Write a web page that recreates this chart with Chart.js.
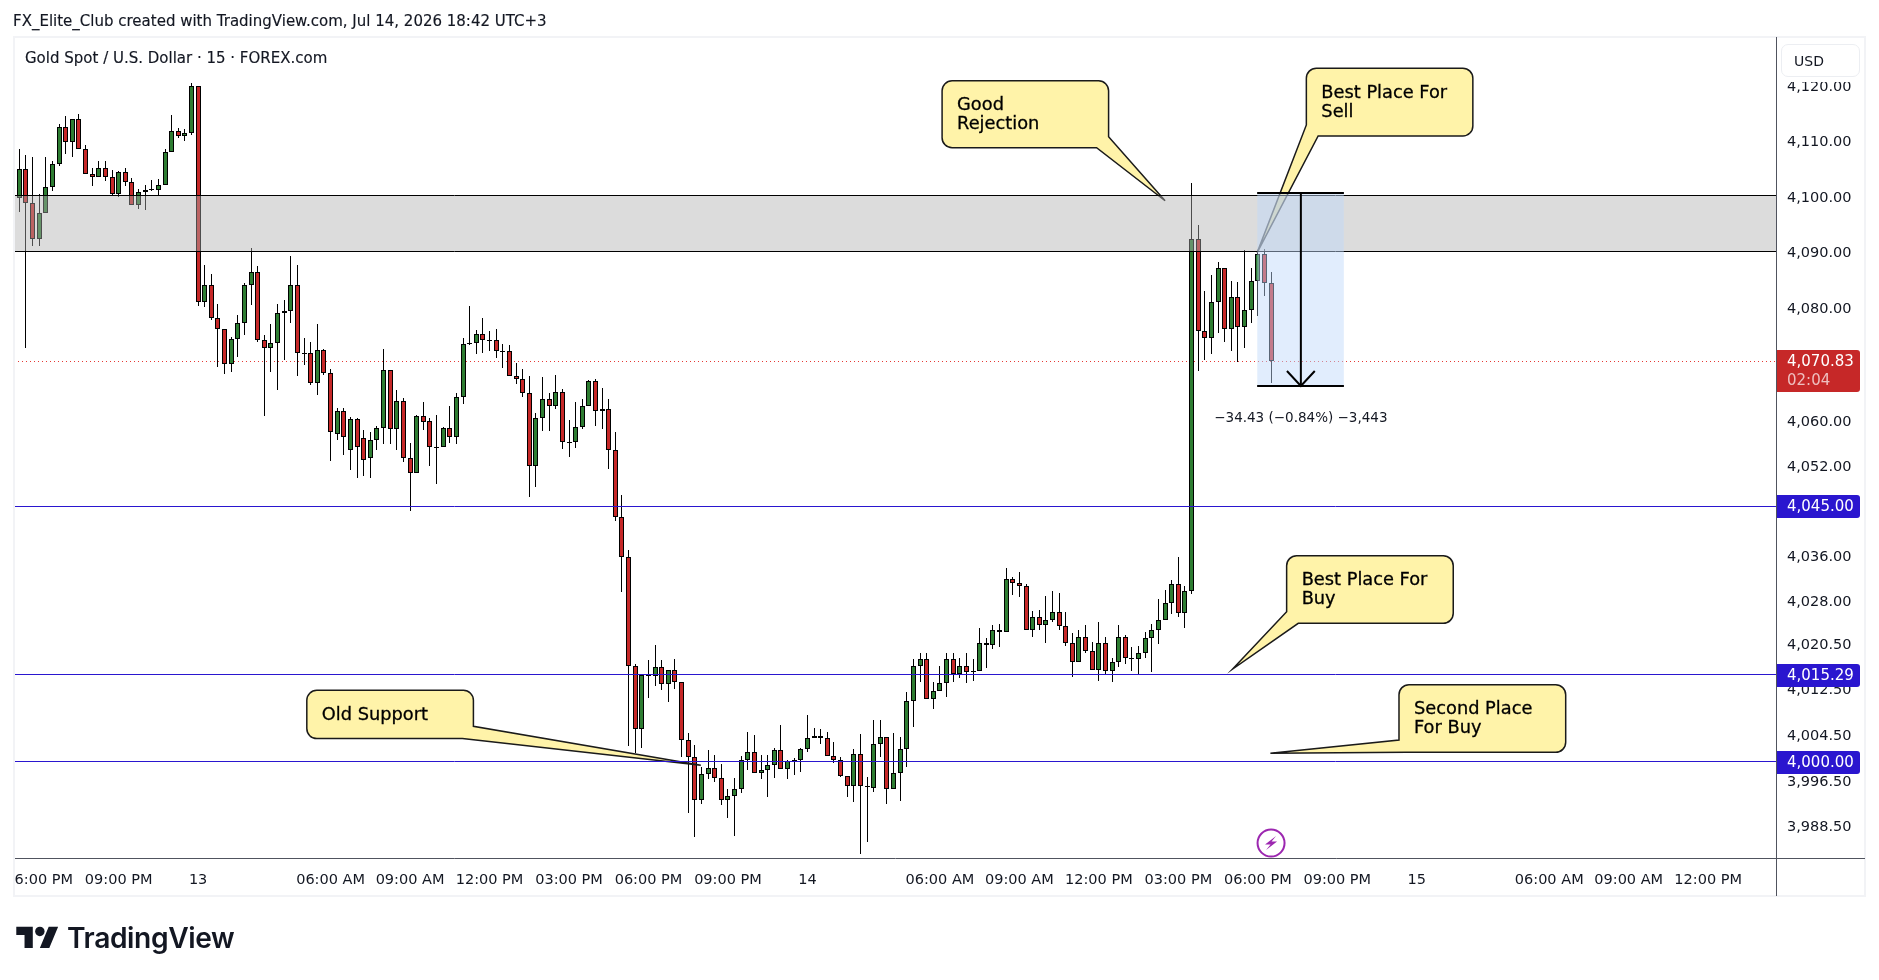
<!DOCTYPE html>
<html>
<head>
<meta charset="utf-8">
<title>Gold Spot / U.S. Dollar</title>
<script src="https://cdn.jsdelivr.net/npm/chart.js@4/dist/chart.umd.min.js"></script>
<style>
  html, body { margin: 0; padding: 0; background: #fff; }
  #wrap { position: relative; width: 1879px; height: 980px; overflow: hidden; color: #131722; font-family: "DejaVu Sans", sans-serif; }
  canvas { position: absolute; left: 0; top: 0; }
  .abs { position: absolute; white-space: nowrap; }
  #frame { left: 13px; top: 36px; width: 1849px; height: 857px; border: 2px solid #f2f3f6; pointer-events: none; }
  #maskLeft { left: 0; top: 860px; width: 13px; height: 36px; background: #fff; }
  #header { left: 13px; top: 12px; font-size: 15px; line-height: 18px; -webkit-text-stroke: 0.15px #131722; }
  #title { left: 25px; top: 49px; font-size: 15px; line-height: 18px; -webkit-text-stroke: 0.15px #131722; }
  #usd { left: 1781px; top: 44px; width: 79px; height: 33px; box-sizing: border-box; border: 1px solid #eceef2; border-radius: 7px; background: #fff; box-shadow: 0 5px 0 #fff; font-size: 14px; line-height: 32px; padding-left: 12px; }
  #axisV { left: 1776px; top: 37px; width: 1px; height: 859px; background: #50535e; }
  #axisH { left: 1776px; top: 858px; width: 89px; height: 1px; background: #50535e; }
  #logo { left: 16px; top: 922px; width: 43px; height: 33px; }
  #logoText { left: 67px; top: 920px; font-family: Inter, sans-serif; font-weight: 600; font-size: 28.2px; line-height: 36px; letter-spacing: -0.4px; color: #131722; }
</style>
</head>
<body>
<div id="wrap">
  <canvas id="chart" width="1879" height="980"></canvas>
  <div class="abs" id="maskLeft"></div>
  <div class="abs" id="frame"></div>
  <div class="abs" id="axisV"></div>
  <div class="abs" id="axisH"></div>
  <div class="abs" id="header">FX_Elite_Club created with TradingView.com, Jul 14, 2026 18:42 UTC+3</div>
  <div class="abs" id="title">Gold Spot / U.S. Dollar · 15 · FOREX.com</div>
  <div class="abs" id="usd">USD</div>
  <svg class="abs" id="logo" viewBox="0 0 36 28"><path fill="#131722" d="M14 22H7V11H0V4h14v18zM28 22h-8l7.5-18h8L28 22z"/><circle fill="#131722" cx="20" cy="8" r="4"/></svg>
  <div class="abs" id="logoText">TradingView</div>
</div>
<script>
// 15 minute candles, one per bar
const opens = [4100.0,4105.2,4099.1,4092.6,4097.3,4101.9,4106.1,4112.7,4110.0,4114.2,4108.8,4104.3,4103.7,4105.4,4103.7,4100.7,4104.6,4102.8,4098.7,4101.0,
  4101.6,4101.5,4102.3,4108.2,4112.0,4111.1,4111.7,4120.1,4081.3,4084.4,4078.5,4076.5,4070.3,4074.7,4077.6,4084.4,4086.7,4074.5,4073.1,4074.0,
  4079.4,4079.7,4084.4,4072.2,4072.2,4067.0,4072.8,4068.7,4057.9,4061.9,4055.0,4060.5,4057.1,4053.6,4056.8,4058.9,4069.3,4058.7,4063.7,4053.5,
  4050.9,4061.0,4060.1,4055.5,4055.5,4058.9,4057.3,4064.4,4073.8,4074.0,4075.6,4074.5,4074.5,4072.6,4072.6,4068.1,4067.7,4065.1,4052.1,4060.6,
  4064.0,4062.9,4065.3,4056.4,4056.4,4059.0,4062.8,4067.2,4061.9,4062.2,4055.0,4043.2,4036.0,4016.9,4005.7,4015.0,4015.0,4016.6,4013.6,4016.1,
  4014.1,4003.9,4000.8,3993.4,3997.8,3999.0,3997.1,3993.4,3994.1,3995.3,4000.3,4001.7,3998.1,3998.5,3999.4,4002.0,3998.8,4000.2,4000.3,4002.2,
  4004.1,4004.6,4004.1,4001.1,4000.4,3997.6,3995.7,4001.3,3995.7,3995.5,4003.1,4004.3,3995.3,3998.0,4002.2,4010.6,4016.9,4018.0,4011.0,4012.4,
  4013.9,4018.0,4015.5,4016.8,4015.9,4015.9,4020.8,4020.5,4022.9,4022.9,4032.1,4031.4,4031.0,4023.1,4025.4,4024.0,4024.9,4026.4,4023.8,4020.8,
  4017.5,4021.9,4019.4,4016.1,4020.8,4015.9,4017.5,4021.9,4018.3,4018.0,4019.2,4021.7,4023.1,4025.0,4028.0,4031.2,4026.1,4030.0,4092.6,4076.1,
  4074.9,4081.3,4087.4,4076.5,4082.2,4076.9,4079.9,4085.1,4089.9,4084.7];
const highs = [4108.8,4107.8,4107.4,4100.7,4107.4,4106.7,4113.3,4114.8,4114.2,4115.1,4109.5,4105.4,4106.7,4106.7,4105.1,4104.8,4105.4,4103.6,4101.6,4102.4,
  4103.3,4103.4,4108.8,4115.0,4112.6,4112.4,4120.7,4120.1,4088.0,4086.4,4081.0,4076.5,4075.1,4079.1,4084.7,4091.0,4087.8,4075.5,4077.5,4081.0,
  4081.7,4089.6,4088.0,4075.0,4074.2,4077.5,4073.0,4069.4,4062.4,4062.4,4060.8,4060.6,4058.6,4058.2,4059.2,4073.0,4069.3,4065.7,4064.2,4056.2,
  4061.2,4063.5,4060.6,4061.2,4059.0,4062.8,4065.1,4074.9,4080.7,4076.3,4078.5,4076.2,4076.5,4073.8,4073.6,4070.4,4069.4,4068.1,4061.5,4067.9,
  4065.1,4068.3,4065.8,4060.3,4063.5,4064.0,4067.5,4067.6,4066.0,4064.0,4058.2,4047.0,4037.2,4017.2,4015.2,4017.9,4020.5,4017.9,4016.1,4018.0,
  4014.1,4005.0,4002.9,3999.1,4002.1,4001.2,3999.6,3995.3,3997.1,4001.0,4005.2,4004.7,4001.2,4001.2,4002.5,4006.4,4000.4,4000.6,4002.4,4008.2,
  4006.0,4005.7,4005.2,4003.5,4000.8,3997.6,4002.2,4004.9,3997.3,4007.3,4007.3,4004.3,4005.0,4004.3,4012.2,4018.0,4019.2,4019.2,4014.0,4016.8,
  4019.1,4019.2,4018.2,4019.1,4018.0,4023.5,4021.7,4024.0,4024.2,4034.1,4032.6,4033.4,4031.3,4026.5,4026.7,4029.2,4030.0,4029.7,4026.3,4022.6,
  4023.2,4024.0,4021.0,4024.6,4021.9,4018.3,4024.0,4022.2,4020.1,4020.3,4022.9,4024.2,4028.6,4030.3,4031.9,4036.1,4031.0,4102.7,4095.2,4083.3,
  4086.2,4088.5,4087.4,4085.1,4085.0,4090.7,4087.5,4090.1,4090.9,4086.8];
const lows = [4097.4,4073.1,4091.4,4091.3,4097.3,4101.3,4105.7,4107.9,4107.3,4108.8,4104.3,4102.2,4103.7,4103.1,4100.4,4100.1,4102.1,4098.7,4098.1,4097.8,
  4101.2,4100.4,4102.3,4108.2,4110.7,4110.3,4111.4,4080.7,4080.4,4078.2,4069.8,4068.6,4068.9,4071.6,4075.5,4080.8,4074.3,4061.1,4068.9,4065.6,
  4071.0,4077.7,4068.1,4070.1,4066.6,4064.8,4068.4,4053.0,4056.8,4054.1,4051.5,4050.0,4050.4,4050.0,4055.0,4056.0,4056.0,4055.0,4052.9,4044.1,
  4050.9,4058.6,4052.2,4049.0,4055.5,4056.3,4056.1,4063.2,4073.7,4072.0,4072.3,4072.7,4071.4,4069.5,4068.1,4066.8,4064.5,4046.7,4048.4,4058.3,
  4058.3,4062.2,4055.1,4053.7,4055.4,4058.7,4062.8,4059.3,4058.8,4051.7,4042.5,4029.9,4002.8,4001.5,4002.4,4011.2,4013.3,4012.6,4010.5,4012.8,
  4000.9,3991.1,3986.9,3992.6,3997.0,3996.5,3992.4,3990.2,3987.0,3994.5,3998.6,3998.1,3997.0,3993.9,3997.2,3998.8,3997.0,3997.7,3998.2,4001.7,
  4004.1,4003.2,4001.1,3999.8,3997.3,3993.9,3993.0,3983.9,3986.0,3994.8,4000.9,3992.7,3995.3,3993.2,3999.1,4006.2,4014.1,4011.0,4009.3,4012.4,
  4011.4,4014.1,4014.8,4013.8,4014.2,4015.9,4016.4,4019.9,4020.2,4022.9,4029.3,4028.9,4023.1,4021.9,4023.2,4020.9,4024.6,4023.2,4020.4,4014.9,
  4017.5,4019.1,4016.1,4014.2,4015.5,4014.1,4016.7,4017.2,4016.0,4015.4,4018.3,4015.8,4020.7,4024.9,4026.0,4025.5,4023.6,4029.6,4069.1,4071.0,
  4072.1,4075.9,4074.3,4072.7,4070.6,4073.2,4077.6,4078.8,4082.5,4066.9];
const closes = [4105.2,4099.1,4092.6,4097.3,4101.9,4106.1,4112.7,4110.0,4114.2,4108.8,4104.3,4103.7,4105.4,4103.7,4100.7,4104.6,4102.8,4098.7,4101.0,4101.4,
  4101.6,4102.3,4108.2,4112.0,4111.1,4111.7,4120.1,4081.3,4084.4,4078.5,4076.5,4070.3,4074.7,4077.6,4084.4,4086.7,4074.5,4073.1,4074.0,4079.4,
  4079.7,4084.4,4072.2,4072.2,4067.0,4072.8,4068.7,4058.2,4061.9,4057.3,4060.5,4055.5,4053.2,4056.8,4058.9,4069.3,4058.7,4063.7,4053.5,4050.9,
  4061.0,4060.0,4055.5,4055.5,4058.9,4057.3,4064.4,4073.8,4074.0,4075.6,4074.5,4074.5,4072.6,4072.6,4068.1,4067.7,4065.1,4052.1,4060.6,4064.0,
  4062.9,4065.3,4056.4,4056.4,4059.0,4062.8,4067.2,4061.9,4062.2,4055.0,4043.2,4036.0,4016.9,4005.7,4015.2,4015.2,4016.6,4013.6,4016.1,4014.1,
  4003.9,4000.8,3993.4,3997.8,3999.0,3997.1,3993.4,3994.1,3995.3,4000.3,4001.7,3998.1,3998.5,3999.4,4002.0,3998.8,4000.1,4000.3,4002.2,4004.1,
  4004.6,4004.1,4001.1,4000.4,3997.6,3995.7,4001.3,3995.7,3995.7,4003.1,4004.3,3995.3,3998.0,4002.2,4010.6,4016.9,4018.0,4011.0,4012.4,4013.9,
  4018.0,4015.5,4016.8,4015.7,4015.9,4020.8,4020.5,4023.1,4023.1,4032.1,4031.4,4031.0,4023.1,4025.4,4024.0,4024.9,4026.4,4023.8,4020.8,4017.5,
  4021.9,4019.4,4016.1,4020.8,4015.9,4017.5,4021.9,4018.3,4018.0,4019.2,4021.7,4023.1,4025.0,4028.0,4031.2,4026.1,4030.0,4092.6,4076.1,4074.9,
  4081.3,4087.4,4076.5,4082.2,4076.9,4079.9,4085.1,4089.9,4084.7,4070.8];

// axis labels
const xTickBars = [3, 15, 27, 47, 59, 71, 83, 95, 107, 119, 139, 151, 163, 175, 187, 199, 211, 231, 243, 255];
const xTickLabels = ['06:00 PM', '09:00 PM', '13', '06:00 AM', '09:00 AM', '12:00 PM', '03:00 PM', '06:00 PM', '09:00 PM', '14',
  '06:00 AM', '09:00 AM', '12:00 PM', '03:00 PM', '06:00 PM', '09:00 PM', '15', '06:00 AM', '09:00 AM', '12:00 PM'];
const yTickValues = [4120, 4110, 4100, 4090, 4080, 4060, 4052, 4036, 4028, 4020.5, 4012.5, 4004.5, 3996.5, 3988.5];

// drawn levels
const bandTop = 4100.4;
const bandBottom = 4090.4;
const lastPrice = 4070.83;
const lastPriceTimer = '02:04';
const levelPrices = [4045, 4015.29, 4000];
const priceFormat = v => v.toLocaleString('en-US', {minimumFractionDigits: 2, maximumFractionDigits: 2});

// measure tool, in bars and prices
const measureBars = [186.9, 200];
const measurePrices = [4100.79, 4066.36];
const measureCentre = 193.5;
const measureArrowBars = [191.4, 193.5, 195.6];
const measureArrowPrices = [4068.94, 4066.36, 4068.94];
const measureLabel = '\u221234.43 (\u22120.84%) \u22123,443';

// callouts hang off a tip given in bars and prices, the box sits at pixel offsets from the tip
const callouts = [
  {lines: ['Good', 'Rejection'], bar: 173, price: 4099.5, dx: [-223, -56.5], dy: [-120, -53], corner: 'br', sideY: -64, bottomX: -68.5},
  {lines: ['Best Place For', 'Sell'], bar: 186.9, price: 4090.2, dx: [49.2, 215.7], dy: [-184.4, -116.7], corner: 'bl', sideY: -127.7, bottomX: 61},
  {lines: ['Old Support'], bar: 102.9, price: 3999.4, dx: [-394, -227.4], dy: [-75, -26.7], corner: 'br', sideY: -39, bottomX: -238.4},
  {lines: ['Best Place For', 'Buy'], bar: 183.2, price: 4016.3, dx: [54, 220.6], dy: [-113.3, -45.7], corner: 'bl', sideY: -57.3, bottomX: 65.6},
  {lines: ['Second Place', 'For Buy'], bar: 188.9, price: 4001.5, dx: [128.6, 295.3], dy: [-68.6, -1], corner: 'bl', sideY: -13.3, bottomX: 136}
];
const boltBar = 189;
const boltPrice = 3985.8;

const barsX = opens.map((_, i) => i);
const xMin = -0.8;
const xMax = 265.24;
const green = '#2e7d32';
const red = '#c62828';
const blue = '#2a16cf';
const textFont = '"DejaVu Sans", sans-serif';

function hLine(price, color, order, extra) {
  return Object.assign({
    type: 'line', order: order, borderColor: color, borderWidth: 1, pointRadius: 0, fill: false, tension: 0,
    data: [{x: xMin, y: price}, {x: xMax, y: price}]
  }, extra || {});
}

const datasets = [
  hLine(lastPrice, '#e53935', 20, {borderDash: [1, 3]}),
  {
    type: 'bar', order: 19, grouped: false, barThickness: 1, backgroundColor: '#000', borderWidth: 0, inflateAmount: 0,
    data: barsX.map(i => ({x: i, y: [lows[i], highs[i]]}))
  },
  {
    type: 'bar', order: 18, grouped: false, barThickness: 5, borderColor: '#000', borderWidth: 1, borderSkipped: false, inflateAmount: 0,
    backgroundColor: barsX.map(i => closes[i] >= opens[i] ? green : red),
    data: barsX.map(i => ({x: i, y: [opens[i], closes[i]]}))
  },
  hLine(bandTop, '#000', 17, {backgroundColor: 'rgba(175,175,175,0.44)', fill: {target: {value: bandBottom}}}),
  hLine(bandBottom, '#000', 16),
  hLine(levelPrices[0], blue, 15),
  hLine(levelPrices[1], blue, 14),
  hLine(levelPrices[2], blue, 13),
  {
    type: 'line', order: 12, pointRadius: 0, borderColor: '#000', borderWidth: 2, backgroundColor: 'rgba(191,217,251,0.47)',
    fill: {target: {value: measurePrices[1]}},
    data: measureBars.map(b => ({x: b, y: measurePrices[0]}))
  },
  {
    type: 'line', order: 11, pointRadius: 0, borderColor: '#000', borderWidth: 2, fill: false,
    data: measureBars.map(b => ({x: b, y: measurePrices[1]}))
  },
  {
    type: 'line', order: 10, pointRadius: 0, borderColor: '#000', borderWidth: 2, fill: false,
    data: measurePrices.map(p => ({x: measureCentre, y: p}))
  },
  {
    type: 'line', order: 9, pointRadius: 0, borderColor: '#000', borderWidth: 2, fill: false, tension: 0,
    data: measureArrowBars.map((b, i) => ({x: b, y: measureArrowPrices[i]}))
  }
];
const bodyIndex = 2;

function drawCallout(ctx, chart, c) {
  const tx = chart.scales.x.getPixelForValue(c.bar);
  const ty = chart.scales.y.getPixelForValue(c.price);
  const x1 = tx + c.dx[0], x2 = tx + c.dx[1], y1 = ty + c.dy[0], y2 = ty + c.dy[1];
  const r = 10;
  ctx.beginPath();
  ctx.moveTo(x1 + r, y1);
  ctx.arcTo(x2, y1, x2, y1 + r, r);
  if (c.corner === 'br') {
    ctx.lineTo(x2, ty + c.sideY);
    ctx.lineTo(tx, ty);
    ctx.lineTo(tx + c.bottomX, y2);
    ctx.arcTo(x1, y2, x1, y2 - r, r);
  } else {
    ctx.arcTo(x2, y2, x2 - r, y2, r);
    ctx.lineTo(tx + c.bottomX, y2);
    ctx.lineTo(tx, ty);
    ctx.lineTo(x1, ty + c.sideY);
  }
  ctx.arcTo(x1, y1, x1 + r, y1, r);
  ctx.closePath();
  ctx.fillStyle = '#fff3a9';
  ctx.fill();
  ctx.strokeStyle = '#1a1a1a';
  ctx.lineWidth = 1.5;
  ctx.stroke();
  ctx.fillStyle = '#000';
  ctx.strokeStyle = '#000';
  ctx.lineWidth = 0.3;
  ctx.font = '17.8px ' + textFont;
  ctx.textAlign = 'left';
  ctx.textBaseline = 'middle';
  c.lines.forEach((t, i) => {
    ctx.fillText(t, x1 + 15, y1 + 25 + i * 19);
    ctx.strokeText(t, x1 + 15, y1 + 25 + i * 19);
  });
}

function drawBadge(ctx, chart, centre, height, color) {
  const x = chart.scales.y.left;
  ctx.fillStyle = color;
  ctx.beginPath();
  ctx.roundRect(x, centre - height / 2, 84, height, [0, 3, 3, 0]);
  ctx.fill();
}

const drawingsPlugin = {
  id: 'drawings',
  // snap marks to whole pixels, the reference has crisp candles and levels
  beforeDatasetsDraw(chart) {
    chart.data.datasets.forEach((ds, i) => {
      const meta = chart.getDatasetMeta(i);
      if (ds.type === 'bar') {
        meta.data.forEach(el => {
          el.x = Math.floor(el.x) + 0.5;
          el.y = Math.round(el.y);
          el.base = Math.round(el.base);
          if (el.base === el.y) el.base = el.y + 1;
        });
      } else {
        const off = ds.borderWidth % 2 ? 0.5 : 0;
        meta.data.forEach(el => {
          el.y = Math.floor(el.y) + off;
        });
      }
    });
  },
  afterDatasetDraw(chart, args) {
    if (args.index !== bodyIndex) return;
    const ctx = chart.ctx;
    ctx.save();
    ctx.beginPath();
    ctx.rect(chart.chartArea.left, chart.chartArea.top, chart.chartArea.width, chart.chartArea.height);
    ctx.clip();
    callouts.forEach(c => drawCallout(ctx, chart, c));
    ctx.restore();
  },
  afterDraw(chart) {
    const ctx = chart.ctx;
    const yScale = chart.scales.y, xScale = chart.scales.x;
    ctx.save();
    // measure label
    ctx.fillStyle = '#131722';
    ctx.font = '13.5px ' + textFont;
    ctx.textAlign = 'center';
    ctx.textBaseline = 'middle';
    ctx.fillText(measureLabel, xScale.getPixelForValue(measureCentre), yScale.getPixelForValue(measurePrices[1]) + 32);
    // lightning mark
    const bx = xScale.getPixelForValue(boltBar), by = yScale.getPixelForValue(boltPrice);
    ctx.strokeStyle = '#9c27b0';
    ctx.lineWidth = 2;
    ctx.beginPath();
    ctx.arc(bx, by, 13.5, 0, Math.PI * 2);
    ctx.stroke();
    ctx.fillStyle = '#9c27b0';
    ctx.beginPath();
    ctx.moveTo(bx + 5, by - 7);
    ctx.lineTo(bx - 6, by + 1.5);
    ctx.lineTo(bx - 0.5, by + 1.5);
    ctx.lineTo(bx - 5, by + 7);
    ctx.lineTo(bx + 6, by - 1.5);
    ctx.lineTo(bx + 0.5, by - 1.5);
    ctx.closePath();
    ctx.fill();
    // price badges
    ctx.textAlign = 'left';
    const labelX = yScale.left + 11;
    levelPrices.forEach(p => {
      const cy = Math.round(yScale.getPixelForValue(p));
      drawBadge(ctx, chart, cy + 0.5, 23, blue);
      ctx.fillStyle = '#fff';
      ctx.font = '15px ' + textFont;
      ctx.fillText(priceFormat(p), labelX, cy + 1);
    });
    const py = Math.round(yScale.getPixelForValue(lastPrice));
    drawBadge(ctx, chart, py + 10, 42, red);
    ctx.fillStyle = '#fff';
    ctx.font = '15px ' + textFont;
    ctx.fillText(priceFormat(lastPrice), labelX, py + 1);
    ctx.fillStyle = 'rgba(255,255,255,0.7)';
    ctx.fillText(lastPriceTimer, labelX, py + 20);
    ctx.restore();
  }
};

new Chart(document.getElementById('chart'), {
  type: 'bar',
  data: {datasets: datasets},
  plugins: [drawingsPlugin],
  options: {
    responsive: false,
    animation: false,
    devicePixelRatio: 1,
    events: [],
    layout: {padding: {left: 14, top: 37, right: 14, bottom: 83}},
    plugins: {legend: {display: false}, tooltip: {enabled: false}},
    scales: {
      x: {
        type: 'linear',
        min: xMin,
        max: xMax,
        offset: false,
        grid: {display: false},
        border: {display: true, color: '#50535e', width: 1},
        afterBuildTicks: s => { s.ticks = xTickBars.map(v => ({value: v})); },
        afterFit: s => { s.height = 39; s.paddingLeft = 0; s.paddingRight = 0; },
        ticks: {
          autoSkip: false,
          maxRotation: 0,
          padding: 6,
          color: '#131722',
          font: {family: textFont, size: 14.5},
          callback: v => xTickLabels[xTickBars.indexOf(v)]
        }
      },
      y: {
        type: 'logarithmic',
        position: 'right',
        min: 3983.2,
        max: 4129,
        grid: {display: false},
        border: {display: true, color: '#50535e', width: 1},
        afterBuildTicks: s => { s.ticks = yTickValues.map(v => ({value: v})); },
        afterFit: s => { s.width = 89; s.paddingTop = 0; s.paddingBottom = 0; },
        ticks: {
          autoSkip: false,
          crossAlign: 'near',
          padding: 3,
          color: '#131722',
          font: {family: textFont, size: 14.5},
          callback: v => priceFormat(v)
        }
      }
    }
  }
});
</script>
</body>
</html>
